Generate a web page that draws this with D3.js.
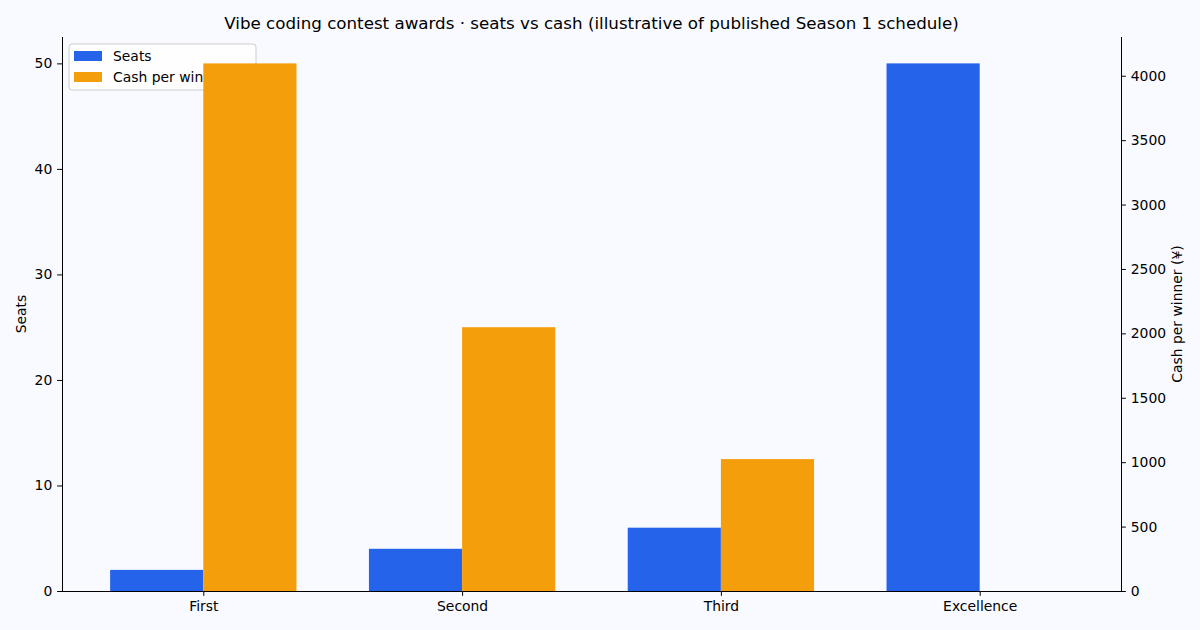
<!DOCTYPE html>
<html><head><meta charset="utf-8">
<script src="https://cdn.jsdelivr.net/npm/d3@7/dist/d3.min.js"></script>
<style>
html,body{margin:0;padding:0;background:#f8faff;}
svg{display:block;font-family:"DejaVu Sans",sans-serif;}
</style></head>
<body>
<svg id="chart" width="1200" height="630"></svg>
<script>
const categories = ["First", "Second", "Third", "Excellence"];
const seats = [2, 4, 6, 50];
const cash = [4096, 2048, 1024, 0];
const seatTicks = [0, 10, 20, 30, 40, 50];
const cashTicks = [0, 500, 1000, 1500, 2000, 2500, 3000, 3500, 4000];
const seriesNames = ["Seats", "Cash per winner (¥)"];
const colors = ["#2563eb", "#f59e0b"];

const W = 1200, H = 630;
const m = {left: 62, right: 1121, top: 37, bottom: 591};
const bw = 0.36;
const svg = d3.select("#chart");
svg.append("rect").attr("width", W).attr("height", H).attr("fill", "#f8faff");

const n = categories.length;
const xMin = -bw, xMax = (n - 1) + bw, xPad = (xMax - xMin) * 0.05;
const x = d3.scaleLinear().domain([xMin - xPad, xMax + xPad]).range([m.left, m.right]);
const yL = d3.scaleLinear().domain([0, d3.max(seats) * 1.05]).range([m.bottom, m.top]);
const yR = d3.scaleLinear().domain([0, d3.max(cash) * 1.05]).range([m.bottom, m.top]);

const fs = 13.9;
// seats bars
svg.append("g").selectAll("rect").data(seats).join("rect")
  .attr("x", (d, i) => x(i - bw)).attr("width", (d, i) => x(i) - x(i - bw))
  .attr("y", d => yL(d)).attr("height", d => yL(0) - yL(d))
  .attr("fill", colors[0]);

// legend (on first axes, below second axes bars)
const lg = svg.append("g").attr("transform", "translate(69,44)");
lg.append("rect").attr("x", 0).attr("y", 0).attr("width", 187).attr("height", 46)
  .attr("rx", 3).attr("fill", "#ffffff").attr("fill-opacity", 0.8)
  .attr("stroke", "#cccccc").attr("stroke-width", 1);
seriesNames.forEach((s, i) => {
  lg.append("rect").attr("x", 5).attr("y", 7 + i * 21).attr("width", 28).attr("height", 10).attr("fill", colors[i]);
  lg.append("text").attr("x", 44).attr("y", 17 + i * 21).attr("font-size", fs).attr("fill", "#000").text(s);
});

// cash bars
svg.append("g").selectAll("rect").data(cash).join("rect")
  .attr("x", (d, i) => x(i)).attr("width", (d, i) => x(i + bw) - x(i))
  .attr("y", d => yR(d)).attr("height", d => yR(0) - yR(d))
  .attr("fill", colors[1]);

// axes
const tickLen = 4.86, tickPad = 4.86;
const gL = svg.append("g").attr("transform", `translate(${m.left},0)`)
  .call(d3.axisLeft(yL).tickValues(seatTicks).tickFormat(d3.format("d")).tickSize(tickLen).tickPadding(tickPad).tickSizeOuter(0));
const gR = svg.append("g").attr("transform", `translate(${m.right},0)`)
  .call(d3.axisRight(yR).tickValues(cashTicks).tickFormat(d3.format("d")).tickSize(tickLen).tickPadding(tickPad).tickSizeOuter(0));
const gX = svg.append("g").attr("transform", `translate(0,${m.bottom})`)
  .call(d3.axisBottom(x).tickValues(d3.range(n)).tickFormat(i => categories[i]).tickSize(tickLen).tickPadding(tickPad).tickSizeOuter(0));
[gL, gR, gX].forEach(g => {
  g.selectAll("text").attr("font-size", fs).attr("font-family", "DejaVu Sans, sans-serif").attr("fill", "#000");
  g.selectAll("line").attr("stroke", "#000").attr("stroke-width", 1);
  g.select(".domain").attr("stroke", "#000").attr("stroke-width", 1);
});
gL.select(".domain").attr("d", `M0.5,${m.bottom}V${m.top}`);
gR.select(".domain").attr("d", `M0.5,${m.bottom}V${m.top}`);
gX.select(".domain").attr("d", `M${m.left},0.5H${m.right}`);

// labels
svg.append("text").attr("transform", `translate(26,${(m.top + m.bottom) / 2}) rotate(-90)`)
  .attr("text-anchor", "middle").attr("font-size", fs).attr("fill", "#000").text("Seats");
svg.append("text").attr("transform", `translate(1182,${(m.top + m.bottom) / 2}) rotate(-90)`)
  .attr("text-anchor", "middle").attr("font-size", fs).attr("fill", "#000").text(seriesNames[1]);
svg.append("text").attr("x", (m.left + m.right) / 2).attr("y", 29)
  .attr("text-anchor", "middle").attr("font-size", 16.7).attr("fill", "#000")
  .text("Vibe coding contest awards · seats vs cash (illustrative of published Season 1 schedule)");
</script>
</body></html>
